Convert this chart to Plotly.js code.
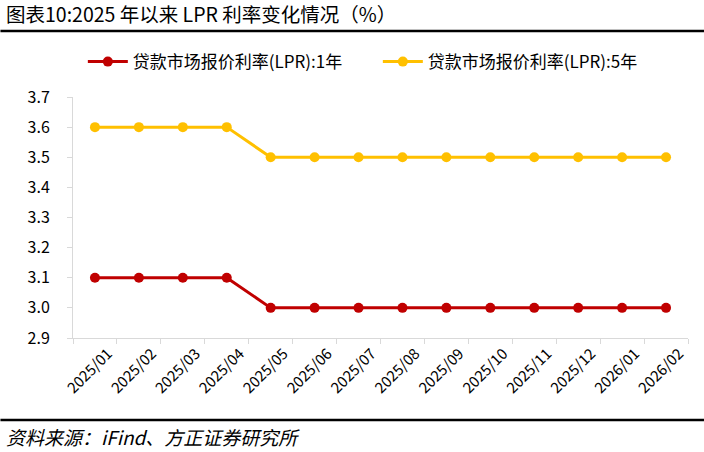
<!DOCTYPE html>
<html>
<head>
<meta charset="utf-8">
<script src="https://cdn.plot.ly/plotly-3.0.1.min.js"></script>
<style>
html,body{margin:0;padding:0;background:#fff;}
#chart{width:704px;height:452px;}
</style>
</head>
<body>
<div id="chart"></div>
<script>
const months = ["2025/01","2025/02","2025/03","2025/04","2025/05","2025/06","2025/07","2025/08","2025/09","2025/10","2025/11","2025/12","2026/01","2026/02"];
const lpr1y = [3.1,3.1,3.1,3.1,3.0,3.0,3.0,3.0,3.0,3.0,3.0,3.0,3.0,3.0];
const lpr5y = [3.6,3.6,3.6,3.6,3.5,3.5,3.5,3.5,3.5,3.5,3.5,3.5,3.5,3.5];
const yTicks = [2.9,3.0,3.1,3.2,3.3,3.4,3.5,3.6,3.7];
const yTickText = ["2.9","3.0","3.1","3.2","3.3","3.4","3.5","3.6","3.7"];

const FONT = "Noto Sans CJK SC, DejaVu Sans, sans-serif";

const traces = [
  {x: months, y: lpr1y, name: "贷款市场报价利率(LPR):1年", type: "scatter", mode: "lines+markers",
   line: {color: "#C00000", width: 3}, marker: {color: "#C00000", size: 10}},
  {x: months, y: lpr5y, name: "贷款市场报价利率(LPR):5年", type: "scatter", mode: "lines+markers",
   line: {color: "#FFC000", width: 3}, marker: {color: "#FFC000", size: 10}}
];

const layout = {
  width: 704, height: 452,
  margin: {l: 73, r: 16, t: 97, b: 114, autoexpand: false},
  paper_bgcolor: "#fff", plot_bgcolor: "#fff",
  font: {family: FONT, size: 13, color: "#000"},
  showlegend: true,
  legend: {orientation: "h", x: 0.016, xanchor: "left", y: 1.145, yanchor: "middle",
           entrywidth: 240, entrywidthmode: "pixels",
           font: {family: FONT, size: 17, color: "#000"}, itemwidth: 40, tracegroupgap: 0},
  xaxis: {type: "category", range: [-0.5, months.length - 0.5], automargin: false, showgrid: false,
          showline: true, linecolor: "#d9d9d9", linewidth: 1,
          ticks: "outside", tickson: "boundaries", ticklen: 5, tickcolor: "#d9d9d9",
          tickangle: -45, ticklabelshift: 13, tickfont: {family: FONT, size: 15, color: "#000"}, zeroline: false},
  yaxis: {range: [2.9, 3.7], automargin: false, tickvals: yTicks, ticktext: yTickText, showgrid: false,
          showline: true, linecolor: "#d9d9d9", linewidth: 1, ticks: "outside", ticklen: 5,
          tickcolor: "#d9d9d9", ticklabelstandoff: 14, tickfont: {family: FONT, size: 16, color: "#000"}, zeroline: false},
  shapes: [
    {type: "line", xref: "paper", yref: "paper", x0: -0.118, x1: 1.026, y0: 1.274, y1: 1.274,
     line: {color: "#000", width: 2.5}},
    {type: "line", xref: "paper", yref: "paper", x0: -0.118, x1: 1.026, y0: -0.34, y1: -0.34,
     line: {color: "#000", width: 2.5}}
  ],
  annotations: [
    {text: "图表10:2025 年以来 LPR 利率变化情况（%）", xref: "paper", yref: "paper",
     x: -0.112, y: 1.345, xanchor: "left", yanchor: "middle", showarrow: false,
     font: {family: FONT, size: 19.5, color: "#000"}},
    {text: "<i>资料来源：iFind、方正证券研究所</i>", xref: "paper", yref: "paper",
     x: -0.112, y: -0.41, xanchor: "left", yanchor: "middle", showarrow: false,
     font: {family: FONT, size: 19, color: "#000"}}
  ]
};

Plotly.newPlot("chart", traces, layout, {displayModeBar: false, staticPlot: true});
</script>
</body>
</html>
